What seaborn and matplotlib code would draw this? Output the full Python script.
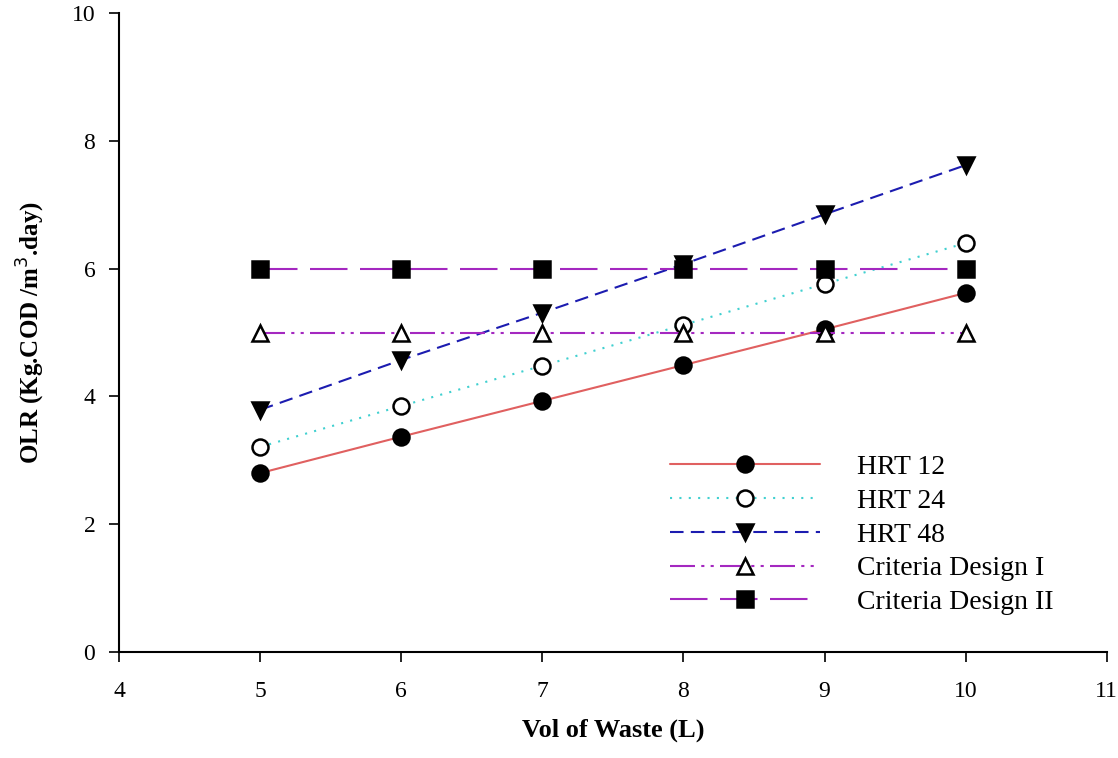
import pandas as pd
import matplotlib
matplotlib.use("Agg")
import matplotlib.pyplot as plt
import seaborn as sns

# Data
vol = [5, 6, 7, 8, 9, 10]
hrt12 = [2.80, 3.37, 3.93, 4.49, 5.05, 5.62]
hrt24 = [3.21, 3.85, 4.48, 5.12, 5.76, 6.40]
hrt48 = [3.79, 4.57, 5.31, 6.07, 6.85, 7.62]
design1 = [5, 5, 5, 5, 5, 5]
design2 = [6, 6, 6, 6, 6, 6]
labels = ["HRT 12", "HRT 24", "HRT 48", "Criteria Design I", "Criteria Design II"]

sns.set_style("ticks", {"axes.edgecolor": "black", "xtick.color": "black",
                        "ytick.color": "black", "text.color": "black",
                        "axes.labelcolor": "black"})
plt.rcParams["font.family"] = ["Liberation Serif", "DejaVu Serif"]

fig = plt.figure(figsize=(11.18, 7.58), dpi=100)
ax = fig.add_axes([0.1064, 0.1398, 0.8836, 0.843])

styles = [
    dict(color="#e06060", linestyle="-", marker="o", mfc="black", mec="black"),
    dict(color="#40d0d0", linestyle=(0, (1, 3.5)), marker="o", mfc="white", mec="black"),
    dict(color="#1c1cb0", linestyle=(0, (6.5, 3.5)), marker="v", mfc="black", mec="black"),
    dict(color="#a428c0", linestyle=(0, (12, 3, 1.5, 3, 1.5, 3)), marker="^", mfc="white", mec="black"),
    dict(color="#a428c0", linestyle=(0, (18, 6)), marker="s", mfc="black", mec="black"),
]
series = [hrt12, hrt24, hrt48, design1, design2]

for vals, lab, st in zip(series, labels, styles):
    df = pd.DataFrame({"vol": vol, "olr": vals})
    sns.lineplot(data=df, x="vol", y="olr", ax=ax, label=lab, color=st["color"],
                 linestyle=st["linestyle"], marker=st["marker"], markersize=11.5,
                 markerfacecolor=st["mfc"], markeredgecolor=st["mec"],
                 markeredgewidth=1.8, linewidth=1.5)

ax.set_xlim(4, 11)
ax.set_ylim(0, 10)
ax.set_xticks(range(4, 12))
ax.set_yticks(range(0, 11, 2))
ax.tick_params(direction="out", length=7, width=1.2, labelsize=17, pad=14)
ax.tick_params(axis="y", pad=10)
for s in ["left", "bottom"]:
    ax.spines[s].set_linewidth(1.5)
sns.despine(ax=ax)

ax.set_xlabel("Vol of Waste (L)", fontsize=19, fontweight="bold", labelpad=12)
ax.set_ylabel("OLR (Kg.COD /m$^3$.day)", fontsize=18, fontweight="bold", labelpad=18)

ax.legend(loc="upper left", bbox_to_anchor=(0.533, 0.348), frameon=False,
          fontsize=20, handlelength=5.4, handletextpad=1.3, labelspacing=0.3)

fig.savefig("out.png", dpi=100)
